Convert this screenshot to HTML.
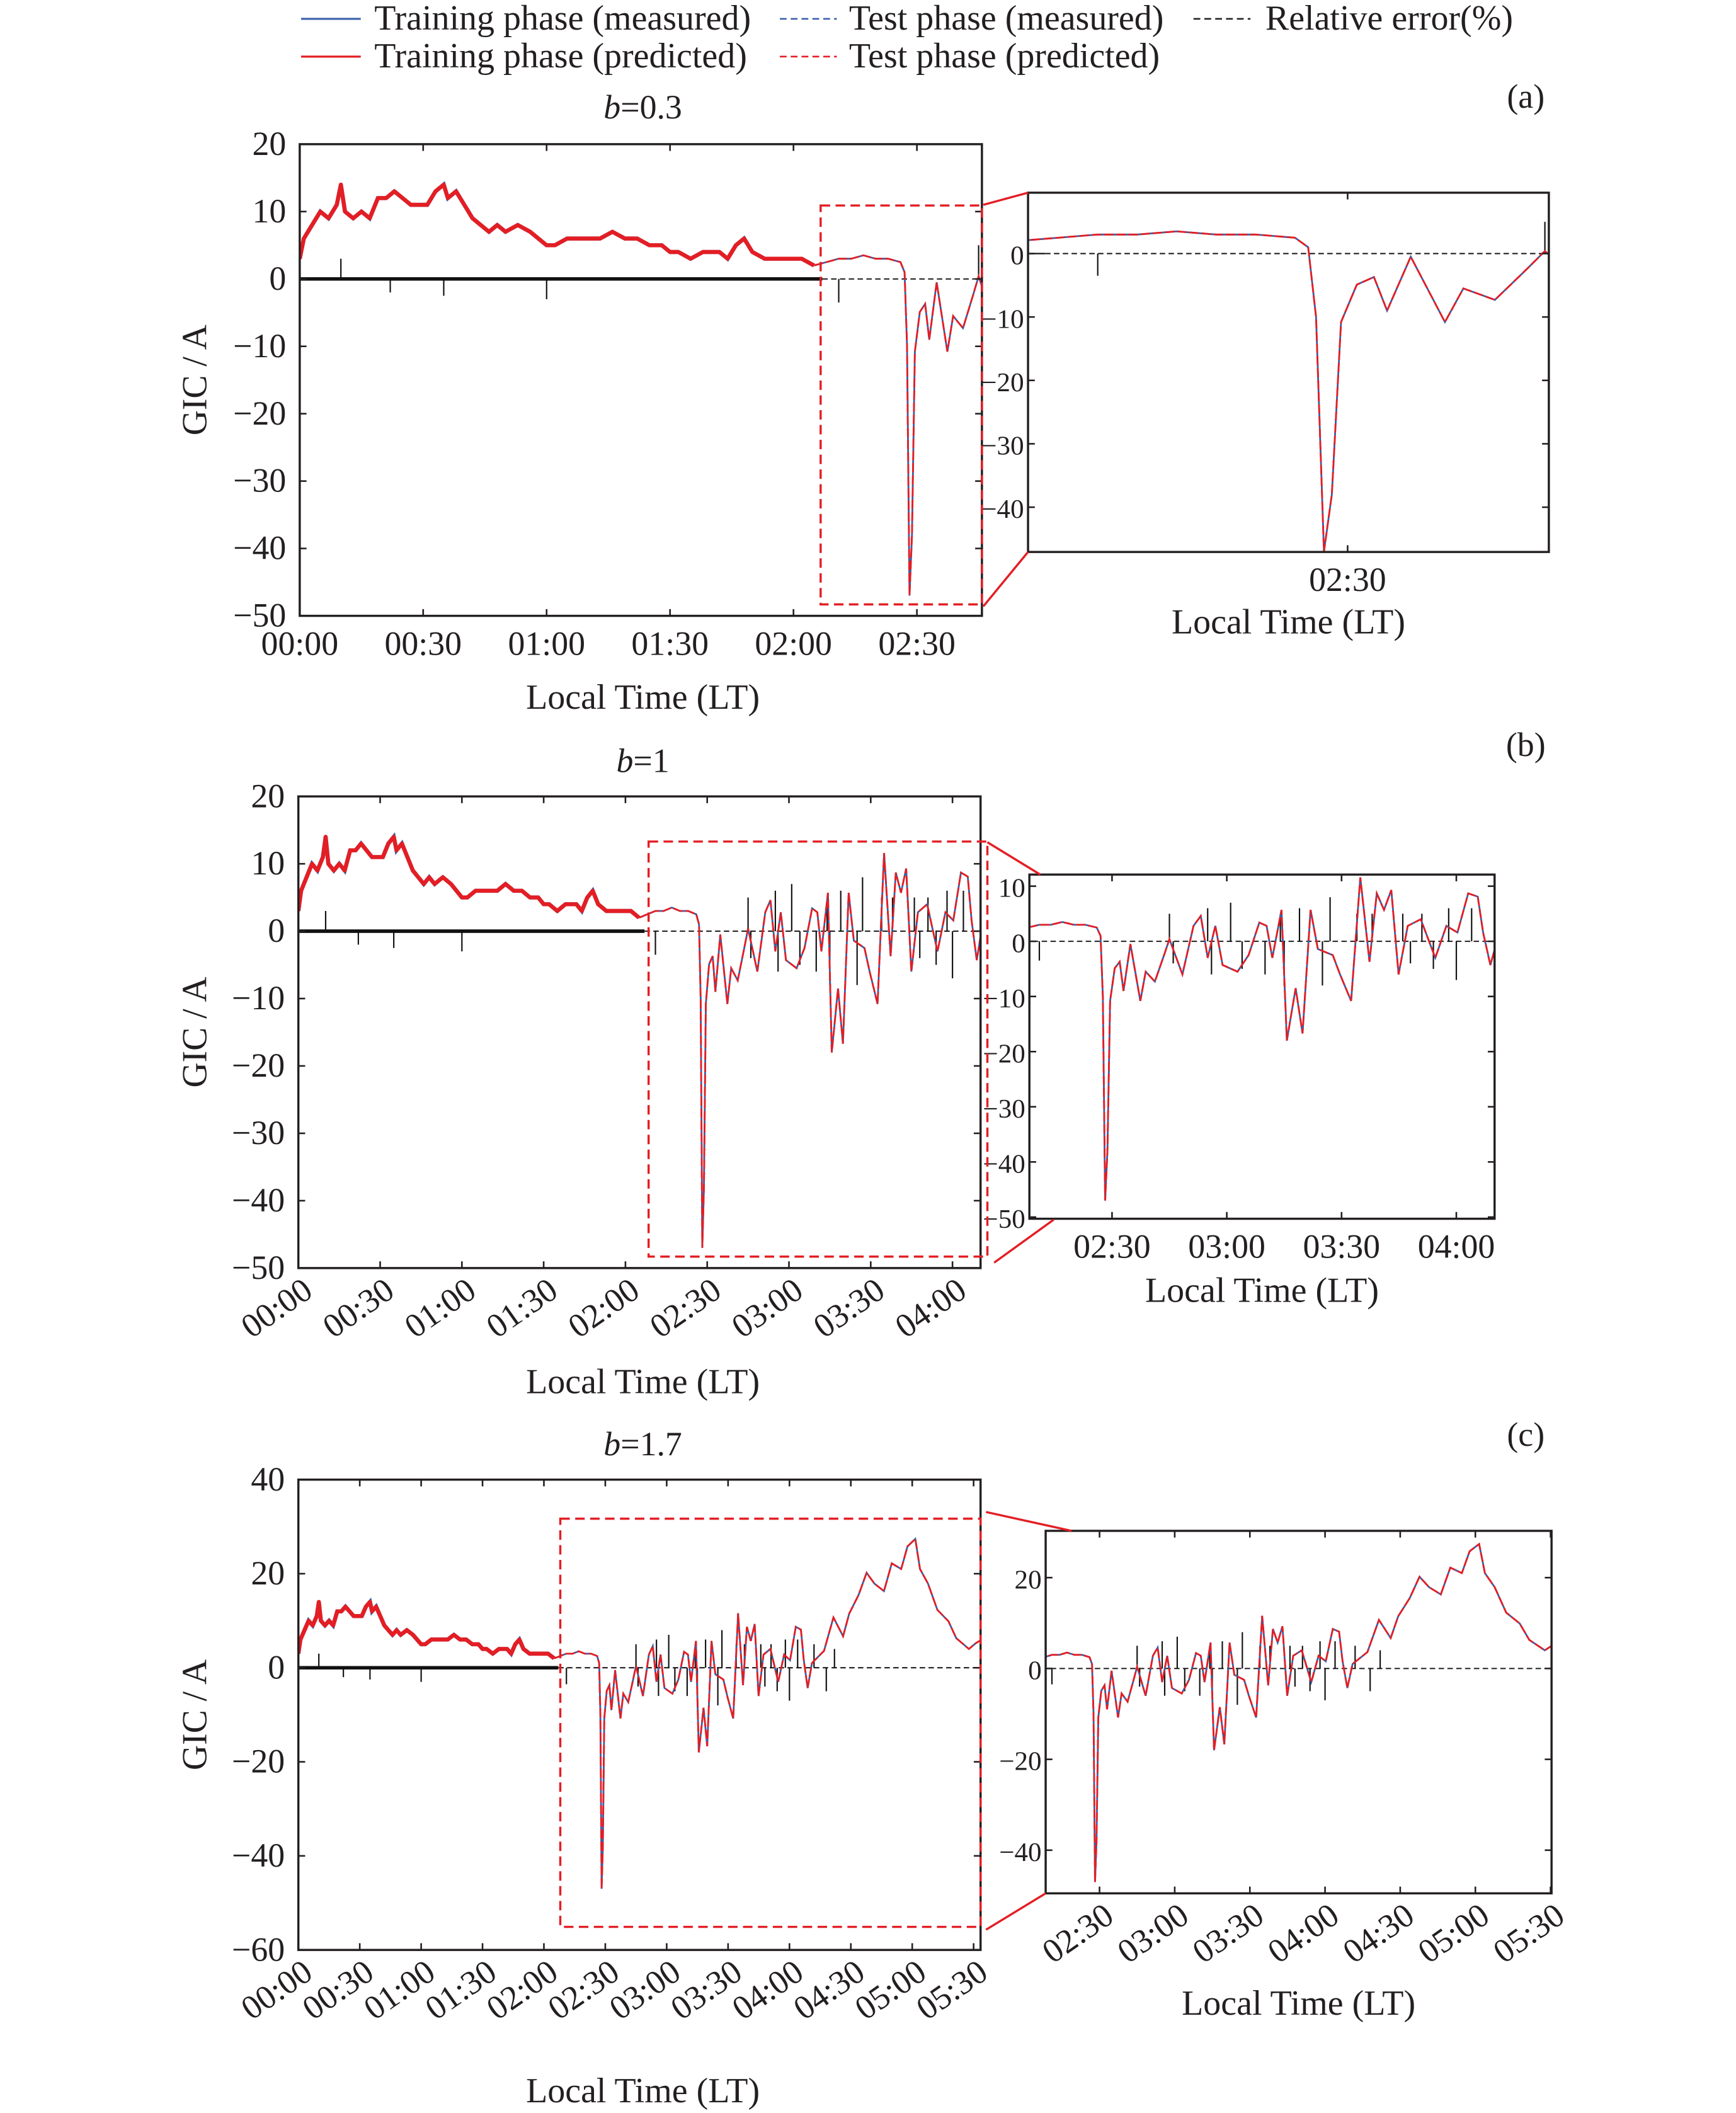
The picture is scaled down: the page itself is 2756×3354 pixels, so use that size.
<!DOCTYPE html>
<html><head><meta charset="utf-8"><style>
html,body{margin:0;padding:0;background:#fff}
svg{display:block}
text{font-family:"Liberation Serif",serif;fill:#231f20}
</style></head><body>
<svg id="fig" xmlns="http://www.w3.org/2000/svg" width="2756" height="3354" viewBox="0 0 1280 1568" preserveAspectRatio="none">
<g>
<line x1="222" y1="14" x2="266" y2="14" stroke="#3a5fa8" stroke-width="1.5"/><text x="276" y="22" font-size="26">Training phase (measured)</text>
<line x1="575" y1="14" x2="617" y2="14" stroke="#3a5fa8" stroke-width="1.2" stroke-dasharray="5 3"/><text x="626" y="22" font-size="26">Test phase (measured)</text>
<line x1="880" y1="14" x2="922" y2="14" stroke="#222" stroke-width="1.2" stroke-dasharray="5 3"/><text x="933" y="22" font-size="26">Relative error(%)</text>
<line x1="222" y1="42" x2="266" y2="42" stroke="#e31e24" stroke-width="1.5"/><text x="276" y="50" font-size="26">Training phase (predicted)</text>
<line x1="575" y1="42" x2="617" y2="42" stroke="#e31e24" stroke-width="1.2" stroke-dasharray="5 3"/><text x="626" y="50" font-size="26">Test phase (predicted)</text>
</g>
</svg>
<script>
// ---- data (time in minutes after 00:00, GIC in A) ----
const gicTimes=[0,1,3,5,7,9,10,11,13,15,17,19,21,23,25,27,29,31,33,35,36,38,40,42,44,46,48,50,53,56,58,60,62,65,68,70,73,76,79,82,85,88,90,92,95,98,100,102,104,106,108,110,113,116,119,122,125,128,131,134,137,140,143,146,147,147.6,148.2,148.8,149.5,150.7,152,153,154.8,157.4,158.8,161.2,163.6,165,168.4,171.3,173.2,175,177,178.9,182.8,185.7,188.5,190.4,191.9,194.3,195.7,198,199.8,201.9,203.8,207.7,209.6,212.5,214.9,217.3,219.2,221.1,223,224.9,227.3,230.7,234.5,237.4,240.3,243.1,245.6,247,248.9,251,256.9,261.5,266.2,269.2,273.8,277.7,281.5,286.2,290,294.6,297.7,301.5,303.8,307.7,312.3,317.7,321.5,327.7,331,334];
const gicValues=[3,6,8,10,9,11,14,10,9,10,9,12,12,13,12,11,11,11,13,14,12,13,11,9,8,7,8,7,8,7,6,5,5,6,6,6,6,7,6,6,5,5,4,4,3,4,4,4,3,5,6,4,3,3,3,3,2,2.5,3,3,3.5,3,3,2.5,1,-10,-47,-38,-10.8,-4.9,-3.7,-9,-0.5,-10.8,-5.5,-7.3,-2.5,0.4,-6,2.8,4.6,-3,2.8,-4.3,-5.5,-2.5,3.4,2.8,-3,5.7,-18,-8.5,-16.7,5.7,-1.4,-2.5,-6,-10.8,11.6,-3.7,8.7,5.7,9.3,-6,2.8,4,-3,2.8,1.6,8.7,8.1,1.6,-4.3,1,3.6,10.7,6.7,11.5,15.5,20.2,17.9,16.3,22.2,21,25.8,27.4,21,17.9,12.3,9.9,6.3,4,5.2,6];
const errTimes=[10,22,35,60,131,165,166,175,176,181,184,190,194,195,199,205,207,214,218,226,228,231,234,238,240,244,252,258,262];
const errValues=[3,-2,-2.5,-3,-3.5,5,-4,6,-6,7,-5,-6,5,-8,6,-8,8,5,5,5,-4,5,-5,6,-7,6,5,-5,4];
const splitTime=127;
// ---- layout ----
const panels=[
 {id:'a',label:'(a)',beta:'0.3',lx:1125,ly:80,ty:88,xl:526,
  main:{x0:221,x1:724,y0:107,y1:457,t0:0,t1:165.8,v0:-50,v1:20,yt:[-50,-40,-30,-20,-10,0,10,20],xt:[0,30,60,90,120,150],rot:false},
  box:{t0:126.6,t1:165.8,v0:-48.3,v1:10.9},
  inset:{x0:758,x1:1142,y0:143,y1:409.6,t0:125.7,t1:165.3,v0:-47.06,v1:9.6,yt:[-40,-30,-20,-10,0],xt:[150],rot:false,xl:470},
  con:[[725,152,758,143],[725,450,758,409.6]]},
 {id:'b',label:'(b)',beta:'1',lx:1125,ly:561,ty:573,xl:1034,
  main:{x0:220,x1:723,y0:591,y1:941,t0:0,t1:250.3,v0:-50,v1:20,yt:[-50,-40,-30,-20,-10,0,10,20],xt:[0,30,60,90,120,150,180,210,240],rot:true},
  box:{t0:128.5,t1:252.8,v0:-48.3,v1:13.3},
  inset:{x0:759,x1:1102,y0:649,y1:904.4,t0:128.4,t1:250,v0:-50.3,v1:12.1,yt:[-50,-40,-30,-20,-10,0,10],xt:[150,180,210,240],rot:false,xl:966},
  con:[[728,625,767,649],[733,937,777,905]]},
 {id:'c',label:'(c)',beta:'1.7',lx:1125,ly:1073,ty:1080,xl:1560,
  main:{x0:220,x1:723,y0:1098,y1:1447,t0:0,t1:333.4,v0:-60,v1:40,yt:[-60,-40,-20,0,20,40],xt:[0,30,60,90,120,150,180,210,240,270,300,330],rot:true},
  box:{t0:128,t1:333.4,v0:-55.1,v1:31.7},
  inset:{x0:771,x1:1144,y0:1136,y1:1405,t0:128.5,t1:330.4,v0:-49.5,v1:30.3,yt:[-40,-20,0,20],xt:[150,180,210,240,270,300,330],rot:true,xl:1495},
  con:[[727,1122,790,1136],[727,1432,771,1405]]}
];
const NS='http://www.w3.org/2000/svg';
const svg=document.getElementById('fig');
function mk(tag,attrs,parent){const e=document.createElementNS(NS,tag);for(const k in attrs)e.setAttribute(k,attrs[k]);(parent||svg).appendChild(e);return e;}
function fmt(t){const h=Math.floor(t/60),m=t%60;return String(h).padStart(2,'0')+':'+String(m).padStart(2,'0');}
let clipN=0;
function drawAxes(ax,g,isInset,name){
  const X=t=>ax.x0+(t-ax.t0)/(ax.t1-ax.t0)*(ax.x1-ax.x0);
  const Y=v=>ax.y1-(v-ax.v0)/(ax.v1-ax.v0)*(ax.y1-ax.y0);
  const cid='clip'+(clipN++);
  const cp=mk('clipPath',{id:cid},g);mk('rect',{x:ax.x0,y:ax.y0,width:ax.x1-ax.x0,height:ax.y1-ax.y0},cp);
  const plot=mk('g',{'clip-path':'url(#'+cid+')'},g);
  
  
  const ptsTrain=[],ptsTest=[];
  for(let i=0;i<gicTimes.length;i++){
    const p=X(gicTimes[i]).toFixed(2)+','+Y(gicValues[i]).toFixed(2);
    if(gicTimes[i]<=splitTime)ptsTrain.push(p);
    if(gicTimes[i]>=splitTime-3)ptsTest.push(p);
  }
  const sw=isInset?1.4:3;
  let e;
  e=mk('line',{x1:X(0),x2:X(splitTime),y1:Y(0),y2:Y(0),stroke:'#111','stroke-width':isInset?1:2.6},plot);
  
  
  e=mk('line',{x1:X(splitTime),x2:X(400),y1:Y(0),y2:Y(0),stroke:'#111','stroke-width':0.9,'stroke-dasharray':'4 2.5'},plot);
  
  
  for(let i=0;i<errTimes.length;i++){
    e=mk('line',{x1:X(errTimes[i]),x2:X(errTimes[i]),y1:Y(0),y2:Y(errValues[i]),stroke:'#111','stroke-width':1},plot);
    
    
  }
  e=mk('polyline',{points:ptsTrain.join(' '),fill:'none',stroke:'#3a5fa8','stroke-width':sw},plot);
  
  
  e=mk('polyline',{points:ptsTrain.join(' '),fill:'none',stroke:'#e31e24','stroke-width':sw,'stroke-linejoin':'round'},plot);
  
  
  e=mk('polyline',{points:ptsTest.join(' '),fill:'none',stroke:'#3a5fa8','stroke-width':1.3},plot);
  
  
  e=mk('polyline',{points:ptsTest.join(' '),fill:'none',stroke:'#e31e24','stroke-width':1.3,'stroke-dasharray':'7 2'},plot);
  
  
  e=mk('rect',{x:ax.x0,y:ax.y0,width:ax.x1-ax.x0,height:ax.y1-ax.y0,fill:'none',stroke:'#231f20','stroke-width':1.6},g);
  
  
  for(const v of ax.yt){
    const y=Y(v);
    mk('line',{x1:ax.x0,x2:ax.x0+5,y1:y,y2:y,stroke:'#231f20','stroke-width':1.2},g);
    mk('line',{x1:ax.x1,x2:ax.x1-5,y1:y,y2:y,stroke:'#231f20','stroke-width':1.2},g);
    e=mk('text',{x:ax.x0-(isInset?3:10),y:y+8,'font-size':isInset?20:25,'text-anchor':'end'},g);
    e.textContent=(v<0?'\u2212':'')+Math.abs(v);
    
    
  }
  for(const t of ax.xt){
    const x=X(t);
    mk('line',{x1:x,x2:x,y1:ax.y1,y2:ax.y1-5,stroke:'#231f20','stroke-width':1.2},g);
    mk('line',{x1:x,x2:x,y1:ax.y0,y2:ax.y0+5,stroke:'#231f20','stroke-width':1.2},g);
    if(ax.rot){
      e=mk('text',{x:x+12,y:ax.y1+20,'font-size':25,'text-anchor':'end',transform:'rotate(-35 '+(x+12)+' '+(ax.y1+20)+')'},g);
    }else{
      e=mk('text',{x:x,y:ax.y1+29,'font-size':25,'text-anchor':'middle'},g);
    }
    e.textContent=fmt(t);
    
    
  }
  return {X,Y};
}
for(const p of panels){
  const g=mk('g',{});
  
  
  let e=mk('text',{x:474,y:p.ty,'font-size':25,'text-anchor':'middle'},g);
  e.innerHTML='<tspan font-style="italic">b</tspan>='+p.beta;
  
  
  e=mk('text',{x:p.lx,y:p.ly,'font-size':25,'text-anchor':'middle'},g);
  e.textContent=p.label;
  
  
  const m=drawAxes(p.main,g,false,'main-chart');
  const yc=(p.main.y0+p.main.y1)/2;
  e=mk('text',{x:152,y:yc,'font-size':26,'text-anchor':'middle',transform:'rotate(-90 152 '+yc+')'},g);
  e.textContent='GIC / A';
  
  
  e=mk('text',{x:474,y:p.xl,'font-size':26,'text-anchor':'middle'},g);
  e.textContent='Local Time (LT)';
  
  
  drawAxes(p.inset,g,true,'inset-chart');
  e=mk('text',{x:(p.inset.x0+p.inset.x1)/2,y:p.inset.xl,'font-size':26,'text-anchor':'middle'},g);
  e.textContent='Local Time (LT)';
  
  
  const bx0=m.X(p.box.t0),bx1=m.X(p.box.t1),by0=m.Y(p.box.v1),by1=m.Y(p.box.v0);
  e=mk('rect',{x:bx0,y:by0,width:bx1-bx0,height:by1-by0,fill:'none',stroke:'#e31e24','stroke-width':1.6,'stroke-dasharray':'7 4'},g);
  
  
  for(const c of p.con){
    e=mk('line',{x1:c[0],y1:c[1],x2:c[2],y2:c[3],stroke:'#e31e24','stroke-width':1.6},g);
    
    
  }
}
</script>
</body></html>
